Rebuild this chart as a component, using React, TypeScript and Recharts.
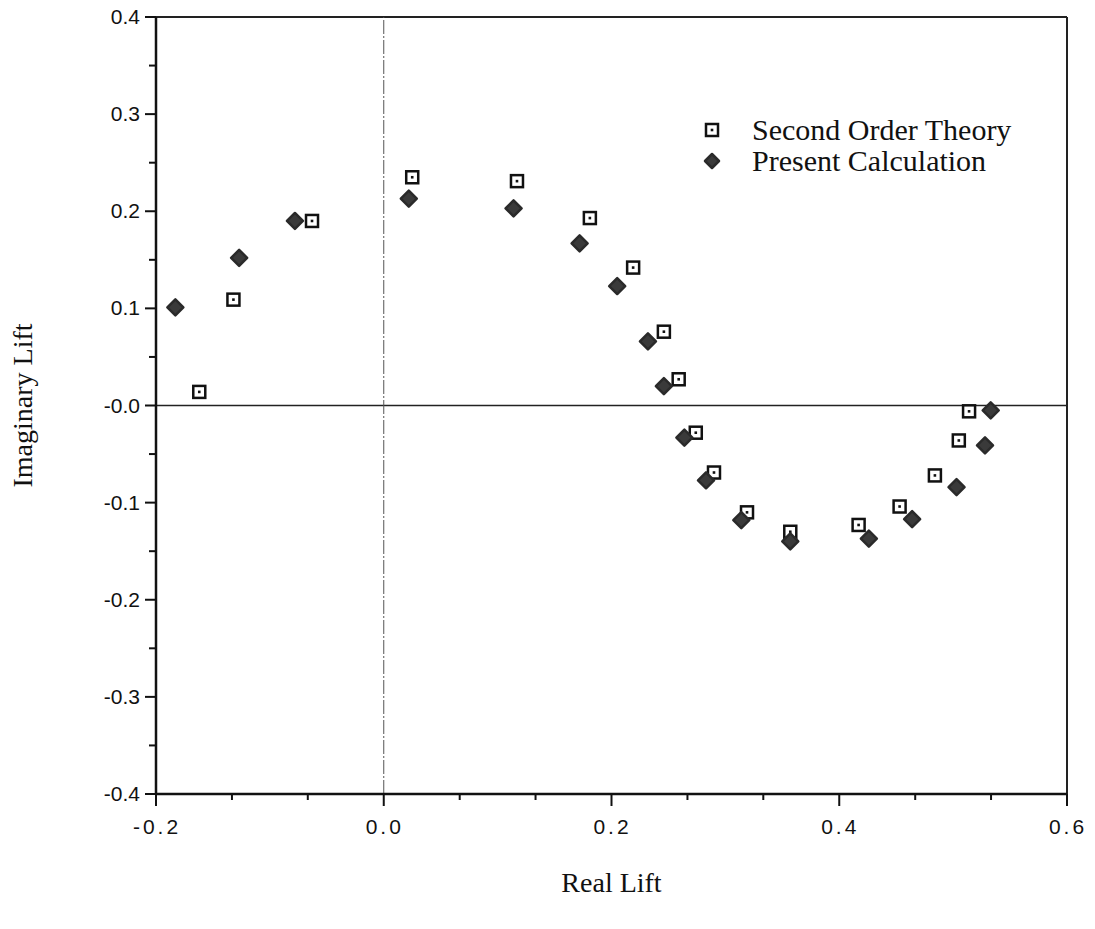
import React from 'react';
import {
  ScatterChart,
  Scatter,
  XAxis,
  YAxis,
  ReferenceLine,
  Label,
} from 'recharts';

// Second Order Theory (open squares)
const theoryReal = [
  -0.162, -0.132, -0.063, 0.025, 0.117, 0.181, 0.219, 0.246, 0.259,
  0.274, 0.290, 0.319, 0.357, 0.417, 0.453, 0.484, 0.505, 0.514,
];
const theoryImag = [
  0.014, 0.109, 0.190, 0.235, 0.231, 0.193, 0.142, 0.076, 0.027,
  -0.028, -0.069, -0.110, -0.130, -0.123, -0.104, -0.072, -0.036, -0.006,
];

// Present Calculation (filled diamonds)
const calcReal = [
  -0.183, -0.127, -0.078, 0.022, 0.114, 0.172, 0.205, 0.232, 0.246,
  0.264, 0.283, 0.314, 0.357, 0.426, 0.464, 0.503, 0.528, 0.533,
];
const calcImag = [
  0.101, 0.152, 0.190, 0.213, 0.203, 0.167, 0.123, 0.066, 0.020,
  -0.033, -0.077, -0.118, -0.140, -0.137, -0.117, -0.084, -0.041, -0.005,
];

// axis ticks
const xMajorTicks = [-0.2, 0, 0.2, 0.4, 0.6];
const xTickLabels = ['-0.2', '0.0', '0.2', '0.4', '0.6'];
const xMinorTicks = [-0.1333, -0.0667, 0.0667, 0.1333, 0.2667, 0.3333, 0.4667, 0.5333];

const yMajorTicks = [-0.4, -0.3, -0.2, -0.1, 0, 0.1, 0.2, 0.3, 0.4];
const yTickLabels = ['-0.4', '-0.3', '-0.2', '-0.1', '-0.0', '0.1', '0.2', '0.3', '0.4'];
const yMinorTicks = [-0.35, -0.25, -0.15, -0.05, 0.05, 0.15, 0.25, 0.35];

const theoryData = theoryReal.map((x, i) => ({ x, y: theoryImag[i] }));
const calcData = calcReal.map((x, i) => ({ x, y: calcImag[i] }));

const SERIF = '"Liberation Serif", "Times New Roman", serif';
const SANS = '"Liberation Sans", Arial, sans-serif';

const findLabel = (ticks: number[], labels: string[], v: number) => {
  const idx = ticks.findIndex((t) => Math.abs(t - v) < 1e-6);
  return idx >= 0 ? labels[idx] : null;
};

// ticks: long for major, short for minor, pointing outward
const XTick = ({ x, y, payload }: any) => {
  const label = findLabel(xMajorTicks, xTickLabels, payload.value);
  return (
    <g>
      <line x1={x} y1={y} x2={x} y2={y + (label ? 12 : 6)} stroke="#111" strokeWidth={2} />
      {label && (
        <text
          x={x + 1}
          y={y + 40}
          textAnchor="middle"
          fontFamily={SANS}
          fontSize={21}
          letterSpacing={3}
          fill="#111"
        >
          {label}
        </text>
      )}
    </g>
  );
};

const YTick = ({ x, y, payload }: any) => {
  const label = findLabel(yMajorTicks, yTickLabels, payload.value);
  return (
    <g>
      <line x1={x} y1={y} x2={x - (label ? 11 : 7)} y2={y} stroke="#111" strokeWidth={2} />
      {label && (
        <text
          x={x - 16}
          y={y + 7}
          textAnchor="end"
          fontFamily={SANS}
          fontSize={21}
          fill="#111"
        >
          {label}
        </text>
      )}
    </g>
  );
};

const SquareMark = ({ cx, cy }: any) => (
  <g>
    <rect x={cx - 6} y={cy - 6} width={12} height={12} fill="#fff" stroke="#111" strokeWidth={2.5} />
    <rect x={cx - 1.3} y={cy - 1.3} width={2.6} height={2.6} fill="#111" />
  </g>
);

const DiamondMark = ({ cx, cy }: any) => (
  <polygon
    points={`${cx},${cy - 8} ${cx + 8},${cy} ${cx},${cy + 8} ${cx - 8},${cy}`}
    fill="#3a3a3a"
    stroke="#2a2a2a"
    strokeWidth={2.5}
    strokeLinejoin="round"
  />
);

const LegendBox = () => (
  <div
    style={{
      position: 'absolute',
      left: 700,
      top: 114,
      fontFamily: SERIF,
      fontSize: 30,
      color: '#111',
      lineHeight: '31px',
      whiteSpace: 'nowrap',
    }}
  >
    <div style={{ display: 'flex', alignItems: 'center' }}>
      <svg width={24} height={24} style={{ marginRight: 28 }}>
        <SquareMark cx={12} cy={12} />
      </svg>
      Second Order Theory
    </div>
    <div style={{ display: 'flex', alignItems: 'center' }}>
      <svg width={24} height={24} style={{ marginRight: 28 }}>
        <polygon points="12,5 19,12 12,19 5,12" fill="#3a3a3a" stroke="#2a2a2a" strokeWidth={2.5} strokeLinejoin="round" />
      </svg>
      Present Calculation
    </div>
  </div>
);

export default function App() {
  return (
    <div style={{ position: 'absolute', left: 0, top: 0, width: 1095, height: 929, background: '#fff' }}>
      <ScatterChart
        width={1095}
        height={929}
        margin={{ top: 17, right: 28, bottom: 35, left: 76 }}
      >
        <XAxis
          type="number"
          dataKey="x"
          domain={[-0.2, 0.6]}
          ticks={[...xMajorTicks, ...xMinorTicks].sort((a, b) => a - b)}
          interval={0}
          tick={<XTick />}
          tickLine={false}
          tickSize={0}
          tickMargin={0}
          axisLine={{ stroke: '#111', strokeWidth: 2.5 }}
          height={100}
          allowDataOverflow
        >
          <Label
            value="Real Lift"
            position="insideBottom"
            offset={2}
            style={{ fontFamily: SERIF, fontSize: 28, fill: '#111' }}
          />
        </XAxis>
        <YAxis
          type="number"
          dataKey="y"
          domain={[-0.4, 0.4]}
          ticks={[...yMajorTicks, ...yMinorTicks].sort((a, b) => a - b)}
          interval={0}
          tick={<YTick />}
          tickLine={false}
          tickSize={0}
          tickMargin={0}
          axisLine={{ stroke: '#111', strokeWidth: 2.5 }}
          width={80}
          allowDataOverflow
        >
          <Label
            value="Imaginary Lift"
            angle={-90}
            position="insideLeft"
            offset={-54}
            style={{ fontFamily: SERIF, fontSize: 28, fill: '#111', textAnchor: 'middle' }}
          />
        </YAxis>
        <ReferenceLine y={0.4} stroke="#222" strokeWidth={2} />
        <ReferenceLine x={0.6} stroke="#222" strokeWidth={2} />
        <ReferenceLine y={0} stroke="#222" strokeWidth={1.5} />
        <ReferenceLine x={0} stroke="#555" strokeWidth={1} strokeDasharray="14 2 2 2" />
        <Scatter
          name="Second Order Theory"
          data={theoryData}
          shape={<SquareMark />}
          isAnimationActive={false}
        />
        <Scatter
          name="Present Calculation"
          data={calcData}
          shape={<DiamondMark />}
          isAnimationActive={false}
        />
      </ScatterChart>
      <LegendBox />
    </div>
  );
}
